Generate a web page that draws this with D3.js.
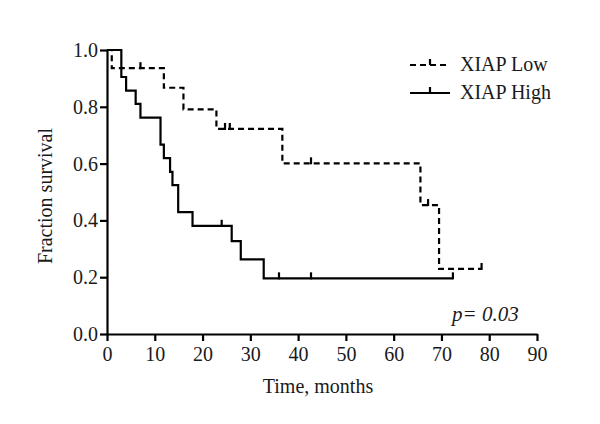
<!DOCTYPE html>
<html>
<head>
<meta charset="utf-8">
<script src="https://cdn.jsdelivr.net/npm/d3@7/dist/d3.min.js"></script>
<style>
  html, body { margin: 0; padding: 0; background: #fff; }
  svg { display: block; }
  text { font-family: "Liberation Serif", "Times New Roman", serif; fill: #1a1a1a; }
</style>
</head>
<body>
<svg id="chart" width="600" height="424"></svg>
<script>
// ---- Data ----
const groups = ["XIAP Low", "XIAP High"];

const lowTimes = [0, 1, 11.9, 16, 22.9, 36.7, 65.6, 69.5];
const lowSurv  = [1.0, 0.936, 0.867, 0.791, 0.722, 0.601, 0.454, 0.229];
const lowEnd = 78.4;
const lowCensor = [7, 24.7, 25.7, 42.7, 67.2, 78.4];

const highTimes = [0, 3, 4, 6, 7, 11.2, 11.9, 13.2, 13.7, 14.9, 17.9, 26.1, 28, 32.8];
const highSurv  = [1.0, 0.905, 0.857, 0.81, 0.762, 0.667, 0.619, 0.571, 0.524, 0.429, 0.381, 0.327, 0.263, 0.196];
const highEnd = 72.4;
const highCensor = [24, 36, 42.7, 72.4];

const xTicks = [0, 10, 20, 30, 40, 50, 60, 70, 80, 90];
const yTicks = [0.0, 0.2, 0.4, 0.6, 0.8, 1.0];

const pLabel = "p= 0.03";
const xTitle = "Time, months";
const yTitle = "Fraction survival";

// ---- Layout ----
const svg = d3.select("#chart");
const x = d3.scaleLinear().domain([0, 90]).range([107, 537]);
const y = d3.scaleLinear().domain([0, 1]).range([334, 50]);
const FONT = 20;
const SW = 2.2;

// Axes
const gx = svg.append("g").attr("transform", `translate(0,${y(0)})`)
  .call(d3.axisBottom(x).tickValues(xTicks).tickFormat(d3.format("d")).tickSize(7).tickSizeOuter(0).tickPadding(4));
const gy = svg.append("g").attr("transform", `translate(${x(0)},0)`)
  .call(d3.axisLeft(y).tickValues(yTicks).tickFormat(d3.format(".1f")).tickSize(7).tickSizeOuter(0).tickPadding(2));
[gx, gy].forEach(g => {
  g.selectAll("path.domain").attr("stroke", "#000").attr("stroke-width", SW);
  g.selectAll(".tick line").attr("stroke", "#000").attr("stroke-width", SW);
  g.selectAll(".tick text").attr("font-size", FONT).attr("font-family", "Liberation Serif").attr("fill", "#1a1a1a");
});
gx.selectAll(".tick text").attr("dy", "0.8em");

// Curves
function steps(times, surv, end) {
  const pts = times.map((t, i) => [t, surv[i]]);
  pts.push([end, surv[surv.length - 1]]);
  return pts;
}
function survAt(times, surv, t) {
  let s = surv[0];
  for (let i = 0; i < times.length; i++) if (times[i] <= t) s = surv[i];
  return s;
}
const line = d3.line().x(d => x(d[0])).y(d => y(d[1])).curve(d3.curveStepAfter);

const series = [
  { name: groups[0], times: lowTimes, surv: lowSurv, end: lowEnd, censor: lowCensor, dash: "6,4" },
  { name: groups[1], times: highTimes, surv: highSurv, end: highEnd, censor: highCensor, dash: null }
];

series.forEach(s => {
  svg.append("path")
    .attr("d", line(steps(s.times, s.surv, s.end)))
    .attr("fill", "none").attr("stroke", "#000").attr("stroke-width", SW)
    .attr("stroke-dasharray", s.dash);
  svg.selectAll(null).data(s.censor).enter().append("line")
    .attr("x1", d => x(d)).attr("x2", d => x(d))
    .attr("y1", d => y(survAt(s.times, s.surv, d)) + 1)
    .attr("y2", d => y(survAt(s.times, s.surv, d)) - 6)
    .attr("stroke", "#000").attr("stroke-width", SW);
});

// Legend
const legY = [65, 93];
series.forEach((s, i) => {
  const g = svg.append("g").attr("transform", `translate(0,${legY[i]})`);
  g.append("line").attr("x1", 410).attr("x2", 450).attr("y1", 0).attr("y2", 0)
    .attr("stroke", "#000").attr("stroke-width", SW).attr("stroke-dasharray", s.dash);
  g.append("line").attr("x1", 430).attr("x2", 430).attr("y1", 0).attr("y2", -6)
    .attr("stroke", "#000").attr("stroke-width", SW);
  g.append("text").attr("x", 460).attr("y", 6).attr("font-size", FONT).text(s.name);
});

// p-value
svg.append("text").attr("x", 452).attr("y", 321).attr("font-size", 21)
  .attr("font-style", "italic").text(pLabel);

// Axis titles
svg.append("text").attr("x", 318).attr("y", 393).attr("text-anchor", "middle")
  .attr("font-size", FONT).text(xTitle);
svg.append("text").attr("transform", "translate(52,196) rotate(-90)").attr("text-anchor", "middle")
  .attr("font-size", FONT).text(yTitle);
</script>
</body>
</html>
